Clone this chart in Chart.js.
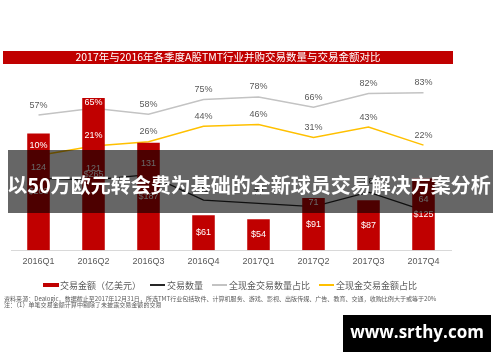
<!DOCTYPE html>
<html>
<head>
<meta charset="utf-8">
<script src="https://cdn.jsdelivr.net/npm/chart.js@4.4.1/dist/chart.umd.min.js"></script>
<style>
  html, body { margin: 0; padding: 0; background: #ffffff; }
  #wrap { width: 500px; height: 362px; }
</style>
</head>
<body>
<div id="wrap"><canvas id="chartTMT" width="500" height="362"></canvas></div>
<script>
// Data
const quarters = ['2016Q1', '2016Q2', '2016Q3', '2016Q4', '2017Q1', '2017Q2', '2017Q3', '2017Q4'];
const dealAmount = [203, 265, 187, 61, 54, 91, 87, 125];        // 交易金额（亿美元）
const dealCount = [124, 121, 131, 83, 77, 71, 98, 64];           // 交易数量
const cashCountShare = [57, 65, 58, 75, 78, 66, 82, 83];         // 全现金交易数量占比 (%)
const cashAmountShare = [10, 21, 26, 44, 46, 31, 43, 22];        // 全现金交易金额占比 (%)

const titleText = '2017年与2016年各季度A股TMT行业并购交易数量与交易金额对比';
const bannerText = '以50万欧元转会费为基础的全新球员交易解决方案分析';
const noteLines = [
    '资料来源：Dealogic，数据截止至2017年12月31日，所选TMT行业包括软件、计算机服务、游戏、影视、出版传媒、广告、教育、交通，收购比例大于或等于20%',
    '注：（1）单笔交易金额计算中剔除了未披露交易金额的交易'
];
const watermarkText = 'www.srthy.com';

const RED = '#c00000';
const GREY_TEXT = '#595959';
const CJK = "'Noto Sans CJK SC', 'Noto Sans', sans-serif";

Chart.defaults.font.family = "'Liberation Sans', Arial, sans-serif";
Chart.defaults.color = GREY_TEXT;

// labels, title bar, legend, notes, overlay banner and watermark
const decorPlugin = {
    id: 'decor',
    afterDatasetsDraw(chart) {
        const ctx = chart.ctx;
        const bars = chart.getDatasetMeta(0).data;
        const barAt = x => bars.find(b => Math.abs(x - b.x) <= b.width / 2);
        const inBar = (x, y) => {
            const b = barAt(x);
            return b && y >= b.y && y <= b.base;
        };
        // keep a label from sitting across a bar's top edge
        const clampLabel = (x, y) => {
            const b = barAt(x);
            if (b && y > b.y - 5 && y < b.y + 5) return b.y + 5;
            return y;
        };

        ctx.save();
        ctx.font = "9px 'Liberation Sans', Arial, sans-serif";
        ctx.textAlign = 'center';
        ctx.textBaseline = 'middle';

        // bar values
        bars.forEach((b, i) => {
            ctx.fillStyle = '#ffffff';
            ctx.fillText('$' + dealAmount[i], b.x, (b.y + b.base) / 2);
        });

        // count values
        chart.getDatasetMeta(1).data.forEach((p, i) => {
            const y = clampLabel(p.x, p.y - 11);
            ctx.fillStyle = inBar(p.x, y) ? '#ffffff' : '#404040';
            ctx.fillText(String(dealCount[i]), p.x, y);
        });

        // share values
        [[2, cashCountShare], [3, cashAmountShare]].forEach(([idx, vals]) => {
            chart.getDatasetMeta(idx).data.forEach((p, i) => {
                const y = clampLabel(p.x, p.y - 10);
                ctx.fillStyle = inBar(p.x, y) ? '#ffffff' : GREY_TEXT;
                ctx.fillText(vals[i] + '%', p.x, y);
            });
        });
        ctx.restore();
    },
    afterDraw(chart) {
        const ctx = chart.ctx;
        ctx.save();

        // title bar
        ctx.fillStyle = RED;
        ctx.fillRect(3, 51, 450, 13);
        ctx.fillStyle = '#ffffff';
        ctx.font = '10.5px ' + CJK;
        ctx.textAlign = 'center';
        ctx.textBaseline = 'middle';
        ctx.fillText(titleText, 228, 57.5);

        // legend
        ctx.font = '9px ' + CJK;
        ctx.textAlign = 'left';
        let x = 43;
        chart.data.datasets.forEach(ds => {
            if (ds.type === 'bar') {
                ctx.fillStyle = ds.backgroundColor;
                ctx.fillRect(x, 283, 16, 4);
            } else {
                ctx.strokeStyle = ds.borderColor;
                ctx.lineWidth = 2;
                ctx.beginPath();
                ctx.moveTo(x, 285);
                ctx.lineTo(x + 15, 285);
                ctx.stroke();
            }
            x += 17;
            ctx.fillStyle = GREY_TEXT;
            ctx.fillText(ds.label, x, 285.5);
            x += ctx.measureText(ds.label).width + 9;
        });

        // source notes
        ctx.fillStyle = GREY_TEXT;
        let size = 6;
        ctx.font = size + 'px ' + CJK;
        size = size * 433 / ctx.measureText(noteLines[0]).width;
        ctx.font = size.toFixed(2) + 'px ' + CJK;
        ctx.fillText(noteLines[0], 4, 298.5);
        ctx.fillText(noteLines[1], 4, 305);

        // overlay banner
        ctx.fillStyle = 'rgba(0, 0, 0, 0.6)';
        ctx.fillRect(8, 150, 485, 63);
        ctx.fillStyle = '#ffffff';
        ctx.font = 'bold 20px ' + CJK;
        ctx.textAlign = 'center';
        ctx.fillText(bannerText, 249, 185.5);

        // watermark
        ctx.fillStyle = '#000000';
        ctx.fillRect(343, 315, 148, 37);
        ctx.fillStyle = '#ffffff';
        ctx.font = "bold 17px 'Open Sans', 'Liberation Sans', sans-serif";
        ctx.fillText(watermarkText, 417, 333.5);

        ctx.restore();
    }
};

const ctx = document.getElementById('chartTMT');
new Chart(ctx, {
    data: {
        labels: quarters,
        datasets: [
            {
                type: 'bar',
                label: '交易金额（亿美元）',
                data: dealAmount,
                backgroundColor: RED,
                borderWidth: 0,
                categoryPercentage: 1,
                barPercentage: 0.41,
                yAxisID: 'yAmount',
                order: 0
            },
            {
                type: 'line',
                label: '交易数量',
                data: dealCount,
                borderColor: '#262626',
                borderWidth: 1.3,
                tension: 0,
                pointRadius: 0,
                yAxisID: 'yCount',
                order: 1
            },
            {
                type: 'line',
                label: '全现金交易数量占比',
                data: cashCountShare,
                borderColor: '#c3c3c3',
                borderWidth: 1.5,
                tension: 0,
                pointRadius: 0,
                yAxisID: 'yShare',
                order: 2
            },
            {
                type: 'line',
                label: '全现金交易金额占比',
                data: cashAmountShare,
                borderColor: '#ffc000',
                borderWidth: 1.5,
                tension: 0,
                pointRadius: 0,
                yAxisID: 'yShare',
                order: 3
            }
        ]
    },
    options: {
        responsive: false,
        animation: false,
        events: [],
        layout: {
            padding: { top: 70, left: 11, right: 49, bottom: 89 }
        },
        plugins: {
            legend: { display: false },
            title: { display: false },
            tooltip: { enabled: false }
        },
        scales: {
            x: {
                offset: true,
                grid: { display: true, drawOnChartArea: false, drawTicks: false },
                border: { display: true, color: '#d9d9d9', width: 1 },
                ticks: {
                    padding: 6,
                    color: GREY_TEXT,
                    font: { size: 9 }
                }
            },
            yAmount: { display: false, min: 0, max: 313.7 },
            yShare: { display: false, min: -100.3, max: 109.4 },
            yCount: { display: false, min: -10.9, max: 327.3 }
        }
    },
    plugins: [decorPlugin]
});
</script>
</body>
</html>
